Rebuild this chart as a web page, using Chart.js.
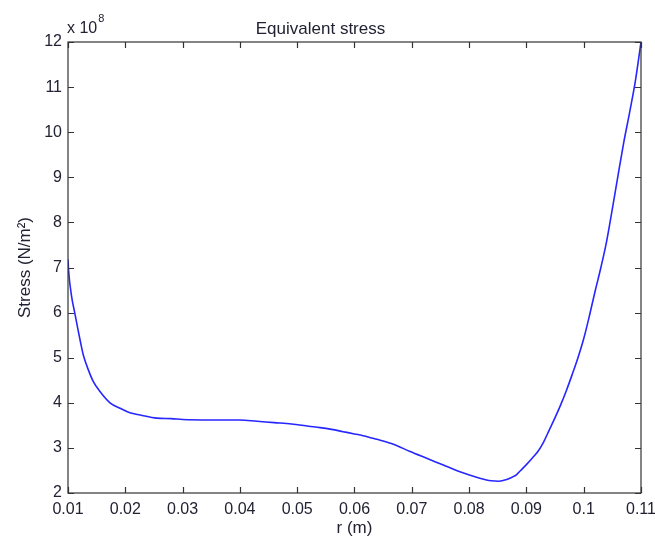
<!DOCTYPE html>
<html>
<head>
<meta charset="utf-8">
<title>Equivalent stress</title>
<script src="https://cdn.jsdelivr.net/npm/chart.js@4.4.1/dist/chart.umd.min.js"></script>
<style>
  html, body { margin: 0; padding: 0; background: #fff; }
  #wrap { width: 655px; height: 539px; position: relative; }
</style>
</head>
<body>
<div id="wrap"><canvas id="stress"></canvas></div>
<script>
// radius (m)
const radius = [
  0.0100, 0.0101, 0.01064, 0.01117, 0.01164, 0.01222, 0.01267, 0.01355, 0.01442, 0.01558,
  0.01733, 0.01908, 0.0208, 0.0226, 0.0255, 0.028, 0.030, 0.035, 0.040, 0.043,
  0.046, 0.049, 0.052, 0.054, 0.056, 0.058, 0.060, 0.0615, 0.063, 0.0645,
  0.0668, 0.0697, 0.0726, 0.0755, 0.0784, 0.0813, 0.0839, 0.0852, 0.0866, 0.0875,
  0.0883, 0.0890, 0.0900, 0.0910, 0.0920, 0.0930, 0.0940, 0.0950, 0.0960, 0.0970,
  0.0980, 0.0990, 0.1000, 0.1010, 0.1020, 0.1030, 0.1040, 0.1050, 0.1060, 0.1070,
  0.1080, 0.1090, 0.1095, 0.1100
];
// equivalent stress, in units of 1e8 N/m^2
const stress = [
  7.18, 6.94, 6.35, 6.00, 5.69, 5.32, 5.06, 4.73, 4.47, 4.25,
  4.00, 3.88, 3.78, 3.73, 3.66, 3.65, 3.63, 3.62, 3.62, 3.59,
  3.56, 3.53, 3.48, 3.45, 3.41, 3.36, 3.31, 3.27, 3.22, 3.17,
  3.08, 2.92, 2.77, 2.62, 2.47, 2.35, 2.27, 2.26, 2.30, 2.35,
  2.41, 2.50, 2.63, 2.77, 2.92, 3.13, 3.40, 3.67, 3.96, 4.28,
  4.63, 5.00, 5.42, 5.93, 6.48, 7.00, 7.58, 8.30, 9.05, 9.78,
  10.43, 11.12, 11.55, 12.00
];
const xTicks = [0.01, 0.02, 0.03, 0.04, 0.05, 0.06, 0.07, 0.08, 0.09, 0.1, 0.11];
const yTicks = [2, 3, 4, 5, 6, 7, 8, 9, 10, 11, 12];

const FONT = "'Liberation Sans', Arial, sans-serif";
const INK = '#222233';
const AXIS = '#333333';

// matlab-style box with inward ticks on all four sides + exponent label
const boxPlugin = {
  id: 'mBox',
  afterDraw(chart) {
    const { ctx, chartArea: a, scales } = chart;
    const tl = 6;
    ctx.save();
    ctx.strokeStyle = AXIS;
    ctx.lineWidth = 1.2;
    ctx.strokeRect(a.left, a.top, a.right - a.left, a.bottom - a.top);
    ctx.beginPath();
    scales.x.ticks.forEach(t => {
      const px = Math.round(scales.x.getPixelForValue(t.value)) + 0.5;
      ctx.moveTo(px, a.bottom); ctx.lineTo(px, a.bottom - tl);
      ctx.moveTo(px, a.top); ctx.lineTo(px, a.top + tl);
    });
    scales.y.ticks.forEach(t => {
      const py = Math.round(scales.y.getPixelForValue(t.value)) + 0.5;
      ctx.moveTo(a.left, py); ctx.lineTo(a.left + tl, py);
      ctx.moveTo(a.right, py); ctx.lineTo(a.right - tl, py);
    });
    ctx.stroke();

    // x 10^8
    ctx.fillStyle = INK;
    ctx.textBaseline = 'alphabetic';
    ctx.textAlign = 'left';
    ctx.font = '16px ' + FONT;
    ctx.fillText('x 10', a.left - 1, a.top - 9);
    const w = ctx.measureText('x 10').width;
    ctx.font = '11px ' + FONT;
    ctx.fillText('8', a.left - 1 + w + 1, a.top - 20);
    ctx.restore();
  }
};

new Chart(document.getElementById('stress'), {
  type: 'line',
  data: {
    datasets: [{
      data: radius.map((r, i) => ({ x: r, y: stress[i] })),
      borderColor: '#2626ff',
      borderWidth: 1.6,
      pointRadius: 0,
      fill: false,
      cubicInterpolationMode: 'monotone'
    }]
  },
  options: {
    responsive: true,
    maintainAspectRatio: false,
    animation: false,
    layout: { padding: { left: 0, right: 14, top: 0, bottom: 0 } },
    plugins: {
      legend: { display: false },
      tooltip: { enabled: false },
      title: {
        display: true,
        text: 'Equivalent stress',
        color: INK,
        font: { family: FONT, size: 17, weight: 'normal', lineHeight: 1.2 },
        padding: { top: 19, bottom: 2.6 }
      }
    },
    scales: {
      x: {
        type: 'linear',
        min: 0.01,
        max: 0.11,
        grid: { display: false, drawTicks: false },
        border: { display: false },
        afterBuildTicks: s => { s.ticks = xTicks.map(v => ({ value: v })); },
        afterFit: s => { s.height = 46; s.paddingLeft = 0; s.paddingRight = 0; },
        ticks: {
          color: INK,
          padding: 7,
          maxRotation: 0,
          autoSkip: false,
          font: { family: FONT, size: 16 },
          callback: v => String(parseFloat(v.toFixed(2)))
        },
        title: {
          display: true,
          text: 'r (m)',
          color: INK,
          font: { family: FONT, size: 17, lineHeight: 1.2 },
          padding: { top: 0, bottom: 0 }
        }
      },
      y: {
        type: 'linear',
        min: 2,
        max: 12,
        grid: { display: false, drawTicks: false },
        border: { display: false },
        afterBuildTicks: s => { s.ticks = yTicks.map(v => ({ value: v })); },
        afterFit: s => { s.width = 68; s.paddingTop = 0; s.paddingBottom = 0; },
        ticks: {
          color: INK,
          padding: 6,
          autoSkip: false,
          font: { family: FONT, size: 16 },
          callback: v => String(v)
        },
        title: {
          display: true,
          text: 'Stress (N/m²)',
          color: INK,
          font: { family: FONT, size: 17, lineHeight: 1.2 },
          padding: { top: 15, bottom: 0 }
        }
      }
    }
  },
  plugins: [boxPlugin]
});
</script>
</body>
</html>
